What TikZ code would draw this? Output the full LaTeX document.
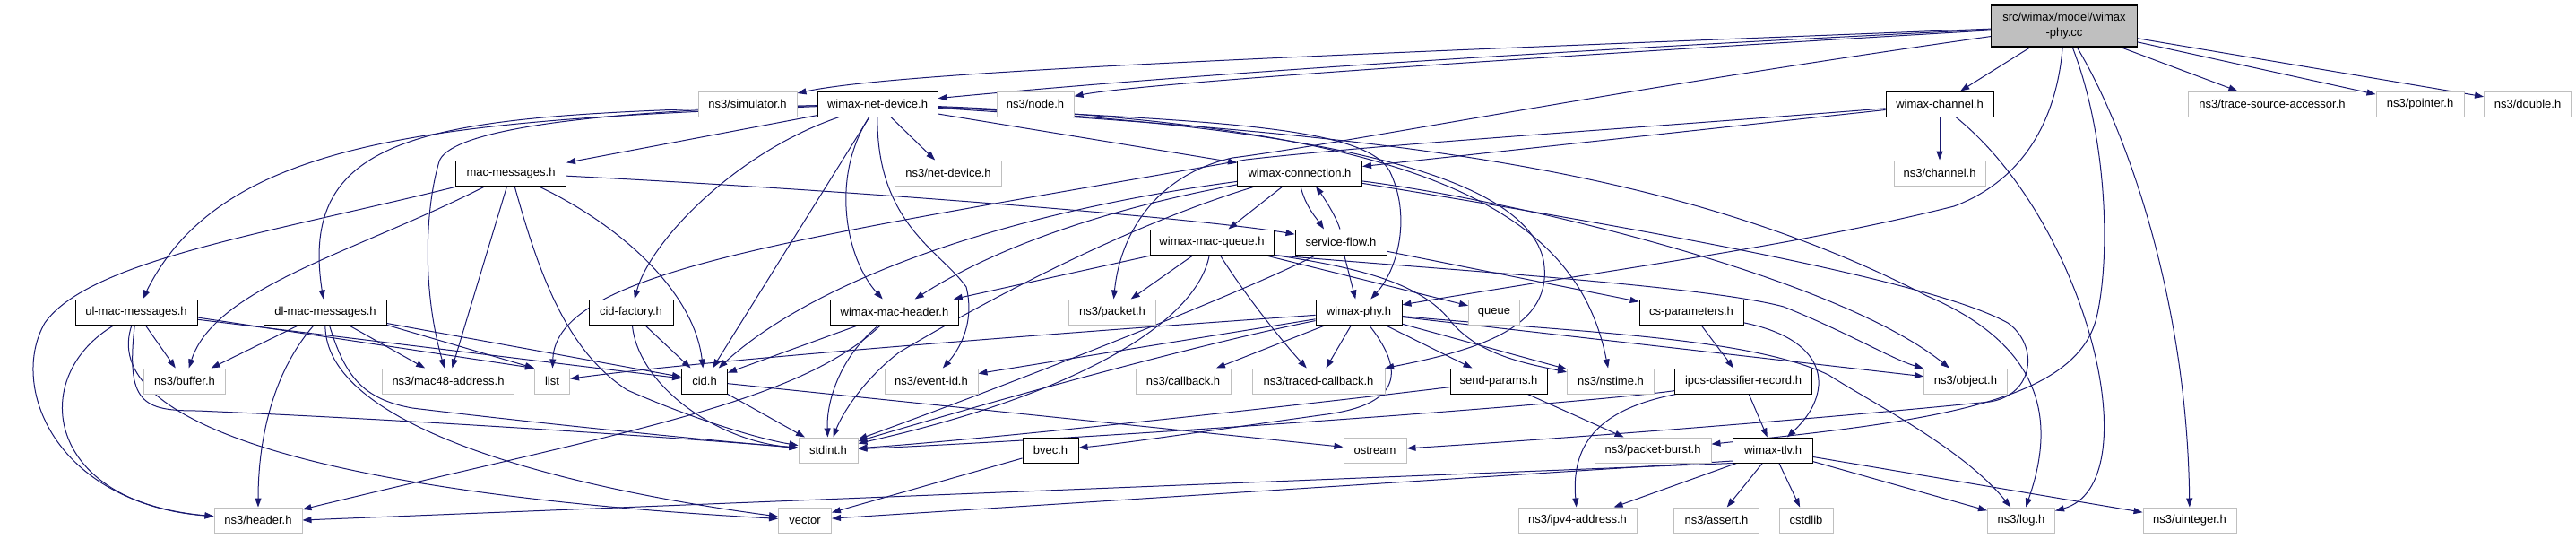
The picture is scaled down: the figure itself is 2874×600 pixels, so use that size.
\documentclass[tikz,border=0pt]{standalone}
\usepackage{fontspec}
\setmainfont{Liberation Sans}
\usetikzlibrary{arrows.meta}
\pgfdeclarelayer{background}
\pgfsetlayers{background,main}
\definecolor{edgeblue}{HTML}{191970}
\definecolor{extgray}{HTML}{BFBFBF}
\tikzset{
  nbox/.style={rectangle, minimum height=28pt, inner sep=0pt, font=\fontsize{13}{15}\selectfont, fill=white, line width=1pt},
  pn/.style={nbox, draw=black},
  xn/.style={nbox, draw=extgray},
  rootn/.style={rectangle, draw=black, fill=extgray, line width=1.1pt, minimum width=163pt, minimum height=46pt, inner sep=0pt, align=center, font=\fontsize{13}{17}\selectfont},
  ed/.style={draw=edgeblue, line width=1pt, -{Triangle[length=10pt,width=7pt]}},
}
\begin{document}
\begin{tikzpicture}[x=1pt,y=-1pt]
\useasboundingbox (0,0) rectangle (2874,600);
\node[rootn] (r) at (2303,29) {src/wimax/model/wimax\\-phy.cc};
\node[xn, minimum width=110pt] (simh) at (834,116) {ns3/simulator.h};
\node[pn, minimum width=134pt] (netdev) at (979,116) {wimax-net-device.h};
\node[xn, minimum width=86pt] (nodeh) at (1155,116) {ns3/node.h};
\node[pn, minimum width=120pt] (wch) at (2164,116) {wimax-channel.h};
\node[xn, minimum width=187pt] (tsa) at (2535,116) {ns3/trace-source-accessor.h};
\node[xn, minimum width=98pt] (ptr) at (2700,116) {ns3/pointer.h};
\node[xn, minimum width=97pt] (dbl) at (2820,116) {ns3/double.h};
\node[pn, minimum width=123pt] (macmsg) at (570,193) {mac-messages.h};
\node[xn, minimum width=119pt] (nd) at (1058,193) {ns3/net-device.h};
\node[pn, minimum width=139pt] (conn) at (1450,193) {wimax-connection.h};
\node[xn, minimum width=102pt] (chh) at (2164,193) {ns3/channel.h};
\node[pn, minimum width=138pt] (mq) at (1352,270) {wimax-mac-queue.h};
\node[pn, minimum width=102pt] (sf) at (1496,270) {service-flow.h};
\node[pn, minimum width=136pt] (ulmac) at (152,348) {ul-mac-messages.h};
\node[pn, minimum width=137pt] (dlmac) at (363,348) {dl-mac-messages.h};
\node[pn, minimum width=94pt] (cidf) at (704,348) {cid-factory.h};
\node[pn, minimum width=143pt] (mh) at (998,348) {wimax-mac-header.h};
\node[xn, minimum width=97pt] (pkt) at (1241,348) {ns3/packet.h};
\node[pn, minimum width=96pt] (phyh) at (1516,348) {wimax-phy.h};
\node[xn, minimum width=57pt] (que) at (1667,348) {queue};
\node[pn, minimum width=116pt] (csp) at (1887,348) {cs-parameters.h};
\node[xn, minimum width=91pt] (buf) at (206,425) {ns3/buffer.h};
\node[xn, minimum width=147pt] (m48) at (500,425) {ns3/mac48-address.h};
\node[xn, minimum width=39pt] (list) at (616,425) {list};
\node[pn, minimum width=51pt] (cid) at (786,425) {cid.h};
\node[xn, minimum width=104pt] (eid) at (1039,425) {ns3/event-id.h};
\node[xn, minimum width=106pt] (cb) at (1320,425) {ns3/callback.h};
\node[xn, minimum width=148pt] (trc) at (1471,425) {ns3/traced-callback.h};
\node[pn, minimum width=108pt] (sp) at (1672,425) {send-params.h};
\node[xn, minimum width=97pt] (nst) at (1797,425) {ns3/nstime.h};
\node[pn, minimum width=153pt] (ipcs) at (1945,425) {ipcs-classifier-record.h};
\node[xn, minimum width=93pt] (obj) at (2193,425) {ns3/object.h};
\node[xn, minimum width=66pt] (std) at (924,502) {stdint.h};
\node[pn, minimum width=62pt] (bvec) at (1172,502) {bvec.h};
\node[xn, minimum width=70pt] (ost) at (1534,502) {ostream};
\node[xn, minimum width=130pt] (pb) at (1844,502) {ns3/packet-burst.h};
\node[pn, minimum width=89pt] (tlv) at (1978,502) {wimax-tlv.h};
\node[xn, minimum width=98pt] (hdr) at (288,580) {ns3/header.h};
\node[xn, minimum width=59pt] (vec) at (898,580) {vector};
\node[xn, minimum width=132pt] (ipv4) at (1760,580) {ns3/ipv4-address.h};
\node[xn, minimum width=95pt] (asr) at (1915,580) {ns3/assert.h};
\node[xn, minimum width=60pt] (cst) at (2015,580) {cstdlib};
\node[xn, minimum width=75pt] (log) at (2255,580) {ns3/log.h};
\node[xn, minimum width=104pt] (uint) at (2443,580) {ns3/uinteger.h};

\begin{pgfonlayer}{background}
% root
\draw[ed] (r) .. controls (1450,62) and (1000,80) .. (simh);
\draw[ed] (r) .. controls (1550,65) and (1200,95) .. (netdev);
\draw[ed] (r) .. controls (1600,70) and (1260,95) .. (nodeh);
\draw[ed] (r) .. controls (1800,100) and (1500,160) .. (1375,176) .. controls (1290,195) and (1250,260) .. (pkt);
\draw[ed] (r) .. controls (2295,130) and (2260,200) .. (2180,230) .. controls (2000,275) and (1800,300) .. (phyh);
\draw[ed] (r) -- (wch);
\draw[ed] (r) .. controls (2350,150) and (2355,280) .. (2340,350) .. controls (2320,450) and (2150,470) .. (pb);
\draw[ed] (r) .. controls (2370,140) and (2440,330) .. (uint);
\draw[ed] (r) -- (tsa);
\draw[ed] (r) -- (ptr);
\draw[ed] (r) -- (dbl);
% wimax-net-device.h
\draw[ed] (netdev) -- (macmsg);
\draw[ed] (netdev) .. controls (500,135) and (250,150) .. (ulmac);
\draw[ed] (netdev) .. controls (500,128) and (330,135) .. (dlmac);
\draw[ed] (netdev) .. controls (620,125) and (500,150) .. (490,180) .. controls (475,230) and (470,320) .. (m48);
\draw[ed] (netdev) .. controls (820,170) and (725,270) .. (cidf);
\draw[ed] (netdev) -- (cid);
\draw[ed] (netdev) .. controls (925,200) and (945,290) .. (mh);
\draw[ed] (netdev) .. controls (978,250) and (1050,280) .. (1078,320) .. controls (1088,360) and (1070,390) .. (eid);
\draw[ed] (netdev) -- (nd);
\draw[ed] (netdev) -- (conn);
\draw[ed] (netdev) .. controls (1350,135) and (1520,140) .. (1550,190) .. controls (1575,240) and (1560,300) .. (phyh);
\draw[ed] (netdev) .. controls (1450,140) and (1700,190) .. (1722,290) .. controls (1735,365) and (1650,390) .. (trc);
\draw[ed] (netdev) .. controls (1600,140) and (1760,240) .. (nst);
\draw[ed] (netdev) .. controls (1500,150) and (1850,175) .. (2150,330) .. controls (2290,390) and (2290,480) .. (log);
% wimax-channel.h
\draw[ed] (wch) .. controls (1800,145) and (1550,160) .. (1390,178) .. controls (900,265) and (620,300) .. (list);
\draw[ed] (wch) -- (chh);
\draw[ed] (wch) -- (conn);
\draw[ed] (wch) .. controls (2330,250) and (2400,540) .. (log);
% mac-messages.h
\draw[ed] (macmsg) .. controls (300,260) and (100,290) .. (50,360) .. controls (10,430) and (60,560) .. (hdr);
\draw[ed] (macmsg) .. controls (1000,215) and (1350,245) .. (sf);
\draw[ed] (macmsg) .. controls (400,280) and (240,320) .. (buf);
\draw[ed] (macmsg) -- (m48);
\draw[ed] (macmsg) .. controls (600,300) and (630,390) .. (700,435) .. controls (780,470) and (850,490) .. (std);
\draw[ed] (macmsg) .. controls (700,255) and (775,330) .. (cid);
% ul-mac-messages.h
\draw[ed] (ulmac) .. controls (30,420) and (50,560) .. (hdr);
\draw[ed] (ulmac) .. controls (110,470) and (350,550) .. (vec);
\draw[ed] (ulmac) .. controls (140,450) and (160,458) .. (220,458) .. controls (500,470) and (780,490) .. (std);
\draw[ed] (ulmac) -- (buf);
\draw[ed] ([yshift=-6pt]ulmac.east) -- (list.north west);
\draw[ed] (ulmac) -- (cid);
% dl-mac-messages.h
\draw[ed] (dlmac) -- (buf);
\draw[ed] (dlmac) .. controls (300,420) and (288,500) .. (hdr);
\draw[ed] (dlmac) .. controls (362,470) and (600,540) .. (vec);
\draw[ed] (dlmac) .. controls (385,420) and (405,445) .. (460,455) .. controls (600,472) and (800,492) .. (std);
\draw[ed] (dlmac) -- (m48);
\draw[ed] (dlmac.south east) -- (list.north west);
\draw[ed] (dlmac) -- (cid);
% cid-factory.h, cid.h
\draw[ed] (cidf) -- (cid);
\draw[ed] (cidf) .. controls (712,430) and (800,492) .. (std);
\draw[ed] (cid) -- (std);
\draw[ed] (cid) -- (ost);
% wimax-mac-header.h
\draw[ed] (mh) -- (cid);
\draw[ed] (mh) .. controls (935,400) and (922,450) .. (std);
\draw[ed] (mh) .. controls (890,450) and (700,480) .. (hdr);
% wimax-connection.h
\draw[ed] (conn) -- (mq);
\draw[ed] ([xshift=1pt]conn.south) .. controls (1456,230) and (1470,245) .. ([xshift=-19pt]sf.north);
\draw[ed] ([xshift=-1pt]sf.north) .. controls (1490,240) and (1478,222) .. ([xshift=18pt]conn.south);
\draw[ed] (conn) .. controls (1100,240) and (900,320) .. (cid);
\draw[ed] (conn) .. controls (1250,230) and (1120,270) .. (mh);
\draw[ed] (conn) .. controls (1260,250) and (1100,335) .. (1003,393) .. controls (965,422) and (940,460) .. (std);
\draw[ed] (conn) .. controls (1800,250) and (2150,310) .. (2240,360) .. controls (2275,385) and (2270,440) .. (2220,448) .. controls (2000,470) and (1700,492) .. (ost);
\draw[ed] (conn) .. controls (1700,225) and (2050,310) .. (obj);
% wimax-mac-queue.h
\draw[ed] (mq) -- (mh);
\draw[ed] (mq) -- (pkt);
\draw[ed] (mq) .. controls (1335,360) and (1200,440) .. (std);
\draw[ed] (mq) .. controls (1390,330) and (1430,380) .. (trc);
\draw[ed] (mq) -- (que);
\draw[ed] (mq.south east) .. controls (1530,300) and (1590,320) .. (1620,360) .. controls (1650,395) and (1700,405) .. (nst);
\draw[ed] (mq.south east) .. controls (1600,300) and (1900,318) .. (1990,342) .. controls (2060,370) and (2110,400) .. (obj);
% service-flow.h
\draw[ed] (sf) .. controls (1400,320) and (1150,420) .. (std);
\draw[ed] (sf) -- (phyh);
\draw[ed] (sf) -- (csp);
% wimax-phy.h
\draw[ed] (phyh) .. controls (1200,370) and (800,400) .. (list);
\draw[ed] (phyh) -- (eid);
\draw[ed] (phyh) .. controls (1380,375) and (1200,420) .. (std);
\draw[ed] (phyh) -- (cb);
\draw[ed] (phyh) -- (trc);
\draw[ed] (phyh) .. controls (1565,410) and (1568,450) .. (1480,462) .. controls (1350,480) and (1250,495) .. (bvec);
\draw[ed] (phyh) -- (sp);
\draw[ed] (phyh) -- (nst);
\draw[ed] (phyh) -- (obj);
\draw[ed] (phyh) .. controls (1750,370) and (1950,375) .. (2040,418) .. controls (2090,450) and (2190,500) .. (log);
% send-params.h
\draw[ed] (sp) .. controls (1450,452) and (1100,490) .. (std);
\draw[ed] (sp) -- (pb);
% cs-parameters.h, ipcs
\draw[ed] (csp) -- (ipcs);
\draw[ed] (csp) .. controls (2045,380) and (2045,440) .. (tlv);
\draw[ed] (ipcs) .. controls (1750,452) and (1200,490) .. (std);
\draw[ed] (ipcs) .. controls (1790,455) and (1752,490) .. (ipv4);
\draw[ed] (ipcs) -- (tlv);
% bvec.h
\draw[ed] (bvec) -- (vec);
% wimax-tlv.h
\draw[ed] (tlv.south west) -- (hdr.east);
\draw[ed] ([yshift=-12pt]tlv.west) -- (vec);
\draw[ed] (tlv) -- (ipv4);
\draw[ed] (tlv) -- (asr);
\draw[ed] (tlv) -- (cst);
\draw[ed] (tlv) -- (log);
\draw[ed] (tlv) -- (uint);
\end{pgfonlayer}
\end{tikzpicture}
\end{document}
